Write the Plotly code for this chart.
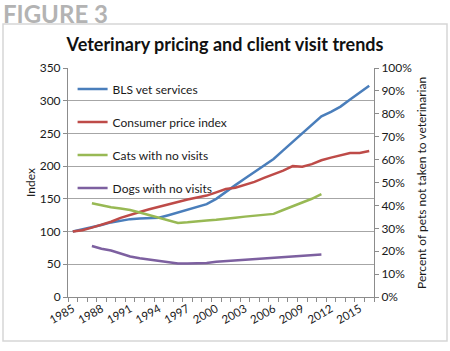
import plotly.graph_objects as go

years = list(range(1985, 2017))
bls_vet = [100, 103, 107, 110, 114, 117, 119, 120, 120, 121, 125, 129, 133, 137, 142, 150,
           161, 171, 181, 191, 201, 211, 224, 237, 250, 263, 276, 283, 291, 302, 312, 323]
cpi = [100, 102, 106, 110, 115, 121, 126, 130, 134, 138, 142, 146, 149, 152, 155, 160,
       165, 167, 171, 176, 182, 187, 193, 200, 199, 203, 209, 213, 217, 220, 220, 223]

survey_years = list(range(1987, 2012))
cats_pct = [40.9, 40.0, 39.2, 38.6, 38.0, 36.9, 35.7, 34.6, 33.4, 32.3, 32.6, 33.1, 33.4,
            33.7, 34.3, 34.6, 35.1, 35.4, 35.7, 36.3, 38.0, 39.7, 41.1, 42.9, 44.9]
dogs_pct = [22.3, 21.1, 20.3, 18.9, 17.7, 16.9, 16.3, 15.7, 14.9, 14.6, 14.6, 14.6, 14.9,
            15.4, 15.7, 16.0, 16.3, 16.6, 16.9, 17.1, 17.4, 17.7, 18.0, 18.3, 18.6]

year_labels = list(range(1985, 2016, 3))
left_ticks = list(range(0, 351, 50))
right_ticks = list(range(0, 101, 10))

FONT = "Lato"
W, H = 450, 351
L, R, T, B = 68, 76, 68, 54
pw, ph = W - L - R, H - T - B

def px(x):
    return (x - L) / pw

def py(y):
    return (H - B - y) / ph

fig = go.Figure()
fig.add_trace(go.Scatter(x=years, y=bls_vet, name="BLS vet services", mode="lines",
                         line=dict(color="#4A7EBB", width=2.5), legendgroup="a"))
fig.add_trace(go.Scatter(x=years, y=cpi, name="Consumer price index", mode="lines",
                         line=dict(color="#BE4B48", width=2.5), legendgroup="b"))
fig.add_trace(go.Scatter(x=survey_years, y=cats_pct, name="Cats with no visits", mode="lines",
                         line=dict(color="#98B954", width=2.5), yaxis="y2", legendgroup="c"))
fig.add_trace(go.Scatter(x=survey_years, y=dogs_pct, name="Dogs with no visits", mode="lines",
                         line=dict(color="#7D60A0", width=2.5), yaxis="y2", legendgroup="d"))

axis_col = "#8c8c8c"
fig.update_layout(
    width=W, height=H,
    margin=dict(l=L, r=R, t=T, b=B),
    paper_bgcolor="white", plot_bgcolor="white",
    font=dict(family=FONT, size=12, color="#1a1a1a"),
    title=dict(text="<b>Veterinary pricing and client visit trends</b>",
               x=0.5, xanchor="center", y=1 - 45 / H, yanchor="middle",
               font=dict(family=FONT, size=18, color="#111")),
    showlegend=True,
    legend=dict(x=0.015, y=0.972, xanchor="left", yanchor="top",
                bgcolor="rgba(0,0,0,0)", font=dict(size=12, color="#1a1a1a"),
                traceorder="grouped", tracegroupgap=14),
    xaxis=dict(range=[1984.5, 2016.5], tickmode="array", tickvals=year_labels,
               ticks="", tickangle=-30, tickfont=dict(size=11.5),
               showline=True, linecolor=axis_col, linewidth=1, showgrid=False, zeroline=False,
               minor=dict(ticks="outside", tick0=1984.5, dtick=1, ticklen=4,
                          tickcolor=axis_col, showgrid=False)),
    yaxis=dict(range=[0, 350], tickmode="array", tickvals=left_ticks,
               ticks="outside", ticklen=4, tickcolor=axis_col, tickfont=dict(size=12),
               showline=True, linecolor=axis_col, linewidth=1,
               showgrid=True, gridcolor="#a6a6a6", gridwidth=1, zeroline=False),
    yaxis2=dict(range=[0, 100], tickmode="array", tickvals=right_ticks,
                ticktext=[f"{v}%" for v in right_ticks], overlaying="y", side="right",
                ticks="outside", ticklen=4, tickcolor=axis_col, tickfont=dict(size=12),
                showline=True, linecolor=axis_col, linewidth=1,
                showgrid=False, zeroline=False),
)

fig.add_shape(type="rect", xref="paper", yref="paper",
              x0=px(3), x1=px(447), y0=py(341), y1=py(24),
              line=dict(color="#d6d6d6", width=1.5), fillcolor="rgba(0,0,0,0)", layer="below")

fig.add_annotation(text="<b>FIGURE 3</b>", xref="paper", yref="paper",
                   x=px(1), y=py(13), xanchor="left", yanchor="middle", showarrow=False,
                   font=dict(family=FONT, size=24, color="#b3b3b3"))
fig.add_annotation(text="Index", xref="paper", yref="paper",
                   x=px(30), y=py(183), xanchor="center", yanchor="middle", showarrow=False,
                   textangle=-90, font=dict(family=FONT, size=12, color="#1a1a1a"))
fig.add_annotation(text="Percent of pets not taken to veterinarian", xref="paper", yref="paper",
                   x=px(421), y=py(183), xanchor="center", yanchor="middle", showarrow=False,
                   textangle=-90, font=dict(family=FONT, size=12, color="#1a1a1a"))

fig.write_html("out.html")
